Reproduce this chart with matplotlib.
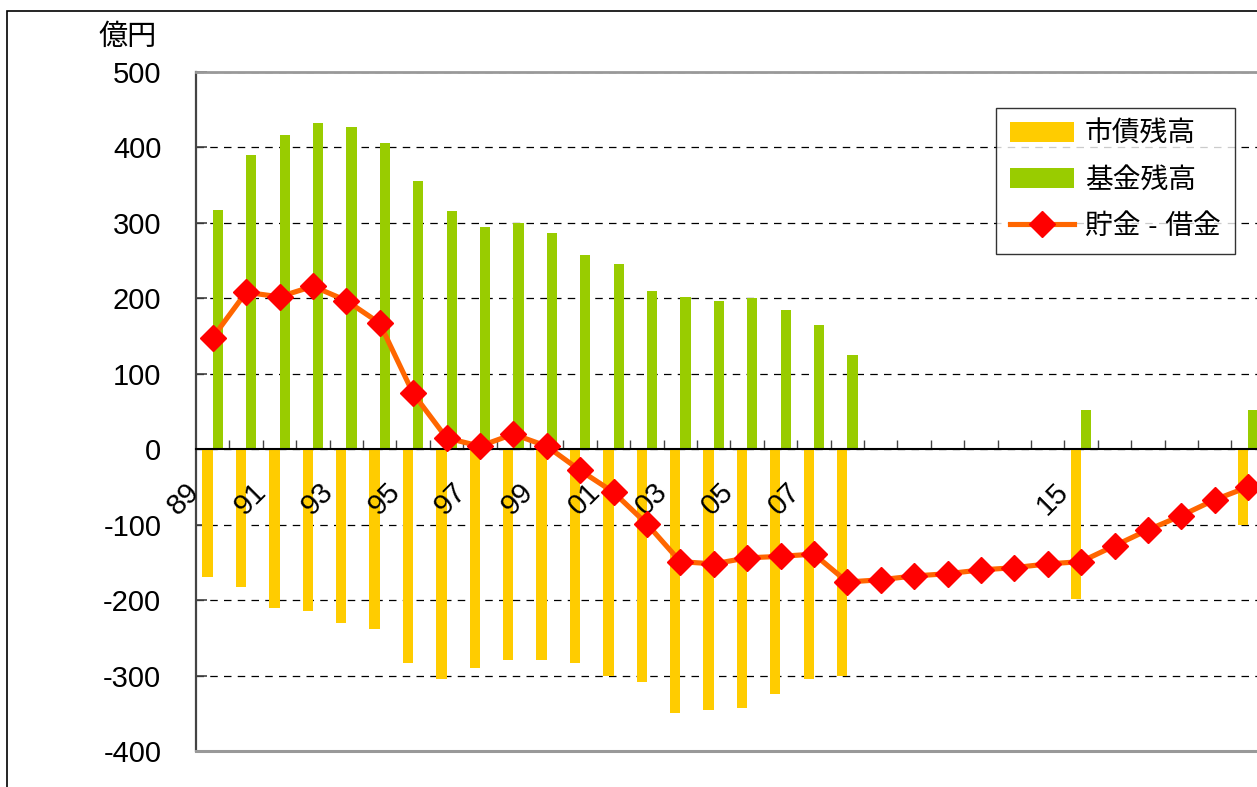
import numpy as np
import matplotlib
matplotlib.use("Agg")
import matplotlib.pyplot as plt
from matplotlib.patches import Rectangle

plt.rcParams['font.family'] = ['Liberation Sans', 'Noto Sans CJK JP', 'DejaVu Sans']

# データ（億円）
years = list(range(1989, 2021))
shisai = [-169, -182, -210, -214, -230, -238, -283, -304, -290, -279, -279, -284,
          -301, -309, -350, -346, -343, -325, -304, -301,
          0, 0, 0, 0, 0, 0, -198, 0, 0, 0, 0, -100]          # 市債残高
kikin = [317, 390, 417, 432, 427, 406, 356, 316, 295, 300, 287, 258,
         245, 210, 202, 197, 200, 184, 165, 125,
         0, 0, 0, 0, 0, 0, 52, 0, 0, 0, 0, 52]               # 基金残高
chokin = [148, 208, 202, 216, 197, 167, 74, 15, 4, 20, 4, -28,
          -57, -99, -149, -152, -144, -142, -139, -176,
          -173, -168, -165, -160, -157, -152, -149, -128, -107, -88, -67, -50]  # 貯金 - 借金
label_years = [1989, 1991, 1993, 1995, 1997, 1999, 2001, 2003, 2005, 2007, 2015]
yticks = list(range(-400, 501, 100))

W, H = 1257, 787
fig = plt.figure(figsize=(W / 100, H / 100), dpi=100)
unit = 33.4  # px per year
ax = fig.add_axes([196 / W, 36 / H, 33 * unit / W, (751 - 72) / H])

x = np.arange(len(years))
bw = 0.31
b1 = ax.bar(x - bw / 2, shisai, width=bw, color="#FFCC00", label="市債残高", zorder=2)
b2 = ax.bar(x + bw / 2, kikin, width=bw, color="#99CC00", label="基金残高", zorder=2)
ln, = ax.plot(x, chokin, color="#FF6600", lw=3.7, marker="D", ms=13,
              mfc="#FF0000", mec="#FF0000", label="貯金 - 借金", zorder=5)

ax.set_xlim(-0.5, 32.5)
ax.set_ylim(-400, 500)

# 軸・枠
ax.spines['bottom'].set_position(('data', 0))
ax.spines['bottom'].set_color('black')
ax.spines['bottom'].set_linewidth(1.5)
ax.spines['bottom'].set_zorder(4)
ax.spines['top'].set_color('#999999')
ax.spines['top'].set_linewidth(2)
ax.spines['right'].set_visible(False)
ax.spines['left'].set_color('#444444')
ax.spines['left'].set_linewidth(1.6)
ax.axhline(-400, color='#999999', lw=2.2, clip_on=False, zorder=4)

ax.set_xticks(np.arange(0.5, len(years), 1))
ax.tick_params(axis='x', direction='in', length=6.5, width=1, color='#444444',
               labelbottom=False)
ax.set_yticks(yticks)
ax.set_yticklabels([str(v) for v in yticks])
ax.tick_params(axis='y', direction='in', length=8, width=1.2, color='#444444',
               pad=25, labelsize=21)

ax.grid(axis='y', color='black', lw=0.9, linestyle=(0, (6, 5)))
ax.set_axisbelow(True)

for yr in label_years:
    i = years.index(yr)
    ax.text(i - 0.87, -66, f"{yr % 100:02d}", rotation=45, ha='center', va='center',
            rotation_mode='anchor', fontsize=21)

fig.text(128 / W, 1 - 37 / H, "億円", ha='center', va='center', fontsize=21)

leg = ax.legend(handles=[b1, b2, ln], loc='upper left', bbox_to_anchor=(996 / W, 1 - 108 / H),
                bbox_transform=fig.transFigure, borderaxespad=0, fontsize=20,
                fancybox=False, frameon=True, edgecolor='black',
                handlelength=2.3, handleheight=0.75, labelspacing=0.72,
                handletextpad=0.4, borderpad=0.5)
leg.get_frame().set_linewidth(1.0)
leg.set_zorder(10)

# グラフエリア枠
fig.add_artist(Rectangle((7 / W, -0.2), 2.0, 1.2 - 11 / H, transform=fig.transFigure,
                         fill=False, edgecolor='black', lw=1.2))

fig.savefig("out.png", dpi=100)
